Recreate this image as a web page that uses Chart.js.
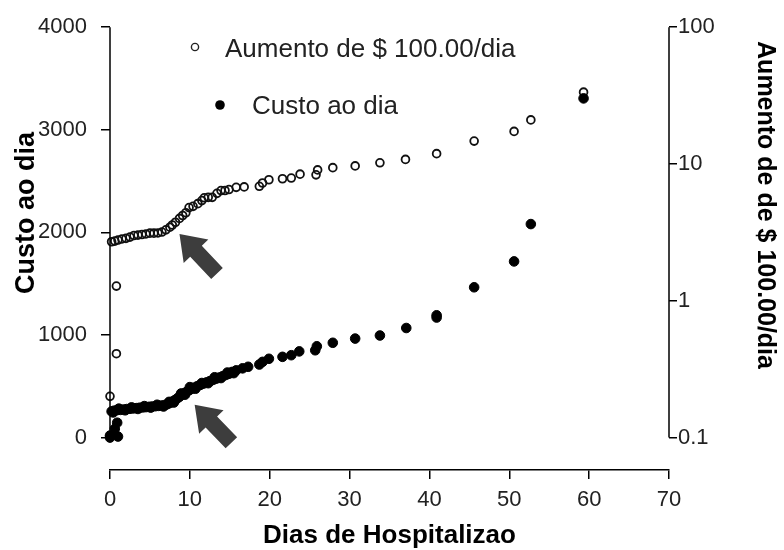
<!DOCTYPE html>
<html>
<head>
<meta charset="utf-8">
<script src="https://cdn.jsdelivr.net/npm/chart.js@4"></script>
<style>
  body { margin: 0; background: #fff; }
  #wrap { width: 784px; height: 550px; position: relative; }
</style>
</head>
<body>
<div id="wrap"><canvas id="chart"></canvas></div>
<script>
// Custo ao dia (eixo esquerdo)
const custoDias = [0, 0, 0.6, 0.9, 1.0,
  0.2, 0.5, 0.9, 1.3, 1.7, 2.1, 2.5, 2.9, 3.3, 3.7, 4.1, 4.5, 4.9, 5.3, 5.7, 6.1, 6.5, 6.9,
  7.2, 7.5, 7.8, 8.1, 8.4, 8.7, 9.0, 9.3, 9.6, 9.9, 10.2, 10.5, 10.9, 11.3, 11.7, 12.1, 12.5,
  12.9, 13.3, 13.7, 14.1, 14.5, 14.9, 15.3, 15.8, 16.6, 17.3, 18.7, 19.1, 19.9, 21.6, 22.7,
  23.7, 25.7, 25.9, 27.9, 30.7, 33.8, 37.1, 40.9, 40.9, 45.6, 50.6, 52.7, 59.3,
  0.4, 1.1, 1.9, 2.7, 3.5, 4.3, 5.1, 5.9, 6.7, 7.4, 8.0, 8.9, 9.4, 10.0, 10.7, 11.5, 12.3,
  13.1, 13.9, 14.7, 15.5];
const custoValores = [0, 20, 85, 145, 10,
  255, 262, 268, 270, 274, 278, 281, 284, 287, 291, 294, 297, 300, 303, 306, 309, 313, 318,
  326, 337, 350, 364, 380, 398, 416, 432, 447, 461, 474, 486, 500, 513, 526, 538, 550,
  562, 574, 586, 598, 610, 622, 640, 655, 675, 690, 712, 738, 768, 787, 803,
  840, 851, 890, 924, 965, 995, 1068, 1170, 1192, 1465, 1717, 2081, 3306,
  245, 282, 266, 294, 279, 307, 292, 320, 303, 348, 342, 430, 418, 492, 476, 532, 530,
  588, 580, 634, 628];

// Aumento de $ 100.00/dia (eixo direito, log)
const aumentoDias = [0, 0.8, 0.8,
  0.2, 0.6, 1.0, 1.5, 2.0, 2.5, 3.0, 3.5, 4.0, 4.5, 5.0, 5.5, 6.0, 6.5, 7.0, 7.5, 7.8, 8.2,
  8.7, 9.1, 9.5, 9.9, 10.4, 11.0, 11.5, 11.8, 12.3, 12.8, 13.4, 13.9, 14.4, 14.9, 15.8, 16.8,
  18.7, 19.1, 19.9, 21.6, 22.7, 23.8, 25.8, 26.0, 27.9, 30.7, 33.8, 37.0, 40.9, 45.6, 50.6,
  52.7, 59.3];
const aumentoValores = [0.20, 0.41, 1.28,
  2.70, 2.73, 2.78, 2.83, 2.86, 2.92, 3.00, 3.02, 3.05, 3.08, 3.12, 3.12, 3.13, 3.18, 3.30, 3.45, 3.58, 3.75,
  4.00, 4.20, 4.40, 4.80, 4.90, 5.13, 5.40, 5.66, 5.70, 5.70, 6.10, 6.39, 6.40, 6.50, 6.75, 6.80,
  6.87, 7.26, 7.67, 7.80, 7.89, 8.43, 8.33, 9.05, 9.40, 9.68, 10.2, 10.8, 11.9, 14.7, 17.3,
  21.0, 33.5];

const xTicks = [0, 10, 20, 30, 40, 50, 60, 70];
const yTicks = [0, 1000, 2000, 3000, 4000];
const y2Ticks = [0.1, 1, 10, 100];

// setas (ponta, cauda) em dias / custo
const setas = [
  { tip: [8.7, 1985], tail: [13.4, 1600] },
  { tip: [10.6, 320], tail: [15.2, -50] }
];

const FONT = "'Liberation Sans', Arial, sans-serif";

function toPoints(xs, ys) {
  return xs.map((x, i) => ({ x: x, y: ys[i] }));
}

function drawArrow(ctx, tx, ty, sx, sy) {
  const len = Math.hypot(tx - sx, ty - sy);
  const ux = (tx - sx) / len, uy = (ty - sy) / len;
  const nx = -uy, ny = ux;
  const headLen = 24, headHalf = 17, shaftHalf = 8;
  const bx = tx - ux * headLen, by = ty - uy * headLen;
  ctx.beginPath();
  ctx.moveTo(tx, ty);
  ctx.lineTo(bx + nx * headHalf, by + ny * headHalf);
  ctx.lineTo(bx + nx * shaftHalf, by + ny * shaftHalf);
  ctx.lineTo(sx + nx * shaftHalf, sy + ny * shaftHalf);
  ctx.lineTo(sx - nx * shaftHalf, sy - ny * shaftHalf);
  ctx.lineTo(bx - nx * shaftHalf, by - ny * shaftHalf);
  ctx.lineTo(bx - nx * headHalf, by - ny * headHalf);
  ctx.closePath();
  ctx.fill();
}

const extras = {
  id: 'extras',
  beforeDatasetsDraw(chart) {
    const ctx = chart.ctx;
    const x = chart.scales.x, y = chart.scales.y;
    ctx.save();
    ctx.fillStyle = '#3d3d3d';
    setas.forEach(s => {
      drawArrow(ctx, x.getPixelForValue(s.tip[0]), y.getPixelForValue(s.tip[1]),
        x.getPixelForValue(s.tail[0]), y.getPixelForValue(s.tail[1]));
    });
    ctx.restore();
  },
  afterDraw(chart) {
    const ctx = chart.ctx;
    const area = chart.chartArea;
    const y = chart.scales.y, y2 = chart.scales.y2;
    ctx.save();
    // linhas dos eixos verticais
    ctx.strokeStyle = '#000';
    ctx.lineWidth = 1.5;
    ctx.beginPath();
    ctx.moveTo(area.left, y.getPixelForValue(4000));
    ctx.lineTo(area.left, y.getPixelForValue(0));
    ctx.moveTo(area.right, y2.getPixelForValue(100));
    ctx.lineTo(area.right, y2.getPixelForValue(0.1));
    ctx.stroke();

    // titulos dos eixos
    ctx.fillStyle = '#000';
    ctx.textAlign = 'center';
    ctx.textBaseline = 'alphabetic';
    ctx.save();
    ctx.font = 'bold 27px ' + FONT;
    ctx.translate(34, 213);
    ctx.rotate(-Math.PI / 2);
    ctx.fillText('Custo ao dia', 0, 0);
    ctx.restore();
    ctx.save();
    ctx.font = 'bold 25px ' + FONT;
    ctx.translate(758, 205);
    ctx.rotate(Math.PI / 2);
    ctx.fillText('Aumento de de $ 100.00/dia', 0, 0);
    ctx.restore();

    // legenda
    ctx.font = '26px ' + FONT;
    ctx.textAlign = 'left';
    ctx.fillStyle = '#222';
    ctx.fillText('Aumento de $ 100.00/dia', 225, 57);
    ctx.fillText('Custo ao dia', 252, 114);
    ctx.beginPath();
    ctx.arc(195, 47, 3.6, 0, Math.PI * 2);
    ctx.lineWidth = 1.4;
    ctx.strokeStyle = '#222';
    ctx.stroke();
    ctx.beginPath();
    ctx.arc(220, 105, 4.8, 0, Math.PI * 2);
    ctx.fillStyle = '#000';
    ctx.fill();
    ctx.restore();
  }
};

new Chart(document.getElementById('chart'), {
  type: 'scatter',
  data: {
    datasets: [
      {
        label: 'Custo ao dia',
        data: toPoints(custoDias, custoValores),
        yAxisID: 'y',
        pointRadius: 4.8,
        pointBorderWidth: 1,
        pointBackgroundColor: '#000',
        pointBorderColor: '#000',
        order: 0,
        clip: false
      },
      {
        label: 'Aumento de $ 100.00/dia',
        data: toPoints(aumentoDias, aumentoValores),
        yAxisID: 'y2',
        pointRadius: 3.9,
        pointBorderWidth: 1.8,
        pointBackgroundColor: 'rgba(255,255,255,0)',
        pointBorderColor: '#111',
        order: 1,
        clip: false
      }
    ]
  },
  options: {
    responsive: true,
    maintainAspectRatio: false,
    animation: false,
    layout: { padding: { top: 20, left: 0, right: 0, bottom: 0 } },
    plugins: {
      legend: { display: false },
      tooltip: { enabled: false }
    },
    scales: {
      x: {
        type: 'linear',
        position: 'bottom',
        min: 0,
        max: 70,
        afterBuildTicks: scale => { scale.ticks = xTicks.map(v => ({ value: v })); },
        afterFit: scale => { scale.height = 80; },
        grid: { drawOnChartArea: false, drawTicks: true, tickLength: 9, color: '#000', lineWidth: 1.5 },
        border: { display: true, color: '#000', width: 1.5 },
        ticks: { color: '#222', padding: 8, font: { family: FONT, size: 22 } },
        title: {
          display: true,
          text: 'Dias de Hospitalizao',
          color: '#000',
          font: { family: FONT, size: 26, weight: 'bold', lineHeight: 1.1 },
          padding: { top: 4, bottom: 0 }
        }
      },
      y: {
        type: 'linear',
        position: 'left',
        min: -316,
        max: 4000,
        afterBuildTicks: scale => { scale.ticks = yTicks.map(v => ({ value: v })); },
        afterFit: scale => { scale.width = 110; },
        grid: { drawOnChartArea: false, drawTicks: true, tickLength: 9, color: '#000', lineWidth: 1.5 },
        border: { display: false },
        ticks: { color: '#222', padding: 14, font: { family: FONT, size: 22 }, callback: v => String(v) }
      },
      y2: {
        type: 'logarithmic',
        position: 'right',
        min: 0.0579,
        max: 100,
        afterBuildTicks: scale => { scale.ticks = y2Ticks.map(v => ({ value: v })); },
        afterFit: scale => { scale.width = 115; },
        grid: { drawOnChartArea: false, drawTicks: true, tickLength: 8, color: '#000', lineWidth: 1.5 },
        border: { display: false },
        ticks: { color: '#222', padding: 1, font: { family: FONT, size: 22 }, callback: v => String(v) }
      }
    }
  },
  plugins: [extras]
});
</script>
</body>
</html>
